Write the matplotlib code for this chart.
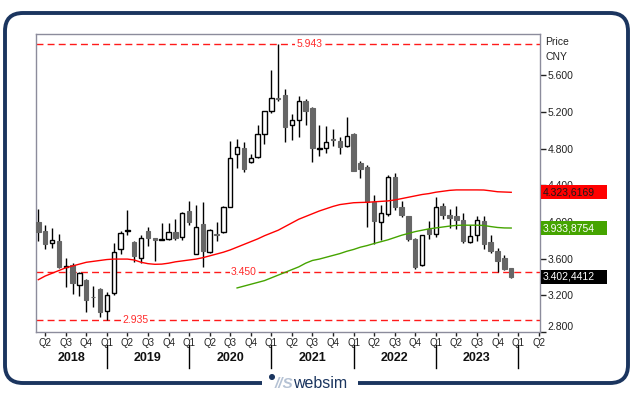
import matplotlib
matplotlib.use("Agg")
import matplotlib.pyplot as plt
from matplotlib.patches import Rectangle, FancyBboxPatch, Circle
from matplotlib.transforms import blended_transform_factory

plt.rcParams['font.family'] = ['Liberation Sans', 'DejaVu Sans']

# monthly candles, Mar 2018 .. Dec 2023
opens = [3.997, 3.902, 3.767, 3.792, 3.505, 3.527, 3.315, 3.367, 3.185, 3.268,
         3.028, 3.221, 3.702, 3.900, 3.781, 3.607, 3.905, 3.825, 3.802, 3.817,
         3.887, 3.833, 4.120, 3.650, 3.978, 3.676, 3.870, 3.894, 4.167, 4.739,
         4.804, 4.658, 4.706, 4.957, 5.208, 5.355, 5.383, 5.059, 5.110, 5.321,
         5.244, 4.800, 4.804, 4.910, 4.884, 4.826, 4.964, 4.644, 4.603, 4.215,
         4.000, 4.084, 4.491, 4.160, 4.065, 3.814, 3.527, 3.920, 3.866, 4.174,
         4.080, 4.065, 4.022, 3.781, 3.855, 4.011, 3.781, 3.683, 3.607, 3.498]
highs = [4.142, 3.970, 3.938, 3.869, 3.607, 3.552, 3.454, 3.374, 3.298, 3.283,
         3.239, 3.767, 3.905, 4.131, 3.792, 3.858, 3.942, 3.828, 3.986, 3.992,
         4.029, 4.105, 4.229, 4.185, 4.215, 3.927, 3.996, 4.170, 4.887, 4.906,
         4.876, 4.739, 5.059, 5.210, 5.659, 5.943, 5.452, 5.176, 5.375, 5.339,
         5.259, 5.059, 5.048, 5.012, 4.931, 5.149, 4.966, 4.669, 4.622, 4.295,
         4.185, 4.513, 4.531, 4.232, 4.070, 3.820, 3.858, 4.011, 4.276, 4.210,
         4.142, 4.174, 4.098, 3.964, 4.065, 4.065, 3.858, 3.716, 3.636, 3.500]
lows = [3.796, 3.708, 3.719, 3.500, 3.293, 3.211, 3.192, 3.014, 3.075, 2.966,
        2.935, 3.203, 3.654, 3.858, 3.560, 3.556, 3.741, 3.577, 3.798, 3.800,
        3.800, 3.800, 3.967, 3.650, 3.505, 3.665, 3.792, 3.883, 4.160, 4.586,
        4.549, 4.641, 4.695, 4.848, 5.186, 5.321, 4.876, 4.895, 4.931, 5.055,
        4.658, 4.720, 4.756, 4.829, 4.742, 4.822, 4.560, 4.483, 3.945, 3.756,
        3.803, 4.069, 4.131, 4.051, 3.792, 3.490, 3.520, 3.818, 3.833, 4.029,
        3.931, 3.920, 3.774, 3.771, 3.796, 3.702, 3.665, 3.457, 3.480, 3.392]
closes = [3.894, 3.756, 3.800, 3.512, 3.515, 3.337, 3.440, 3.152, 3.178, 3.020,
          3.203, 3.669, 3.876, 3.910, 3.629, 3.822, 3.828, 3.800, 3.810, 3.887,
          3.828, 4.095, 4.003, 3.945, 3.686, 3.909, 3.862, 4.164, 4.695, 4.815,
          4.575, 4.695, 4.957, 5.208, 5.350, 5.345, 5.040, 5.117, 5.324, 5.215,
          4.811, 4.805, 4.873, 4.900, 4.822, 4.939, 4.560, 4.578, 4.221, 4.014,
          4.098, 4.491, 4.164, 4.080, 3.811, 3.505, 3.855, 3.869, 4.160, 4.073,
          4.047, 4.022, 3.792, 3.847, 4.022, 3.763, 3.686, 3.571, 3.487, 3.402]

red_ma = [3.37, 3.41, 3.44, 3.47, 3.50, 3.52, 3.54, 3.56, 3.57, 3.58,
          3.59, 3.595, 3.595, 3.595, 3.585, 3.56, 3.545, 3.538, 3.54, 3.55,
          3.565, 3.575, 3.585, 3.595, 3.61, 3.63, 3.65, 3.67, 3.695, 3.725,
          3.755, 3.785, 3.815, 3.85, 3.88, 3.91, 3.95, 3.99, 4.03, 4.06,
          4.09, 4.12, 4.145, 4.17, 4.19, 4.20, 4.21, 4.213, 4.215, 4.22,
          4.225, 4.23, 4.24, 4.255, 4.27, 4.285, 4.30, 4.31, 4.325, 4.335,
          4.345, 4.35, 4.35, 4.35, 4.35, 4.349, 4.34, 4.33, 4.327, 4.324]
green_start = 29
green_ma = [3.28, 3.30, 3.32, 3.34, 3.36, 3.39, 3.42, 3.45, 3.48, 3.51,
            3.55, 3.58, 3.595, 3.615, 3.635, 3.655, 3.68, 3.70, 3.725, 3.743,
            3.765, 3.785, 3.805, 3.83, 3.855, 3.875, 3.895, 3.91, 3.925, 3.935,
            3.945, 3.955, 3.963, 3.965, 3.965, 3.965, 3.962, 3.95, 3.94, 3.935,
            3.934]

ref_levels = [5.943, 3.450, 2.935]
ref_label_x = [39.6, 30.0, 14.2]

quarter_labels = ['Q2', 'Q3', 'Q4'] + ['Q1', 'Q2', 'Q3', 'Q4'] * 5 + ['Q1', 'Q2']
years = ['2018', '2019', '2020', '2021', '2022', '2023']
price_ticks = [5.6, 5.2, 4.8, 4.4, 4.0, 3.6, 3.2, 2.8]

fig = plt.figure(figsize=(6.35, 3.98), dpi=100)

# outer rounded frame with logo
bg = fig.add_axes([0, 0, 1, 1], zorder=-1)
bg.set_xlim(0, 635)
bg.set_ylim(398, 0)
bg.axis('off')
navy = '#1b355f'
bg.add_patch(FancyBboxPatch((5, 13), 623, 370, boxstyle='round,pad=0,rounding_size=18',
                            fill=False, edgecolor=navy, lw=2.8))
bg.add_patch(Rectangle((262, 376), 96, 14, facecolor='white', edgecolor='none'))
bg.add_patch(Circle((272, 377), 2.3, color=navy))
bg.text(275, 384, '//S', fontsize=11, color='#b5c2d4', fontweight='bold',
        fontstyle='italic', va='center', ha='left')
bg.text(293, 383, 'websim', fontsize=11.5, color=navy, va='center', ha='left')

ax = fig.add_axes([36 / 635, 1 - 332 / 398, 504 / 635, 298 / 398])
n = len(opens)
xs = list(range(n))

ax.vlines(xs, lows, highs, color='black', lw=1, zorder=2)
for i in xs:
    o, c = opens[i], closes[i]
    if c >= o:
        ax.bar(i, c - o, bottom=o, width=0.64, facecolor='white', edgecolor='black',
               lw=1, zorder=3)
    else:
        ax.bar(i, o - c, bottom=c, width=0.64, facecolor='#666666', edgecolor='#666666',
               lw=0.8, zorder=3)

ax.plot(xs, red_ma, color='#ff0000', lw=1, zorder=4)
ax.plot(range(green_start, green_start + len(green_ma)), green_ma, color='#45a400',
        lw=1, zorder=4)

for lvl, lx in zip(ref_levels, ref_label_x):
    ax.axhline(lvl, color='#ff1a1a', lw=1, ls=(0, (5, 3)), zorder=1)
    ax.text(lx, lvl, f'{lvl:.3f}', color='#ff2b2b', fontsize=7.5, ha='center', va='center',
            bbox=dict(facecolor='white', edgecolor='none', pad=1), zorder=1.5)

ax.set_xlim(-0.34, 73.2)
ax.set_ylim(2.799, 6.052)

for s in ax.spines.values():
    s.set_color('#8c8c9c')
    s.set_linewidth(1)

ax.yaxis.tick_right()
ax.set_yticks(price_ticks)
ax.set_yticklabels([f'{t:.3f}' for t in price_ticks])
ax.tick_params(axis='y', length=4, width=1, color='#222222', labelsize=7.5, pad=1.5,
               labelcolor='#222222')
for lab in ax.get_yticklabels():
    if lab.get_text() == '2.800':
        lab.set_verticalalignment('bottom')

qpos = list(range(1, 74, 3))
ax.set_xticks(qpos)
ax.set_xticklabels(quarter_labels)
ax.tick_params(axis='x', length=3, width=1, color='#222222', labelsize=7, pad=1.5,
               labelcolor='#222222')

trans = blended_transform_factory(ax.transData, ax.transAxes)
seps = [10, 22, 34, 46, 58, 70]
bounds = [-0.34] + seps
for k, yr in enumerate(years):
    ax.text((bounds[k] + bounds[k + 1]) / 2, -26 / 298, yr, transform=trans,
            ha='center', va='center', fontsize=9, fontweight='bold', color='#111111')
for sx in seps:
    ax.plot([sx, sx], [-13 / 298, -36 / 298], transform=trans, color='black', lw=1,
            clip_on=False)

ax.text(1.01, 1 - 8 / 298, 'Price', transform=ax.transAxes, fontsize=7.5, ha='left',
        va='center', color='#222222')
ax.text(1.01, 1 - 23 / 298, 'CNY', transform=ax.transAxes, fontsize=7.5, ha='left',
        va='center', color='#222222')

btrans = blended_transform_factory(ax.transAxes, ax.transData)
boxes = [(4.3236, '4.323,6169', '#ff0000', '#1a1a1a'),
         (3.9339, '3.933,8754', '#45a400', 'white'),
         (3.4024, '3.402,4412', '#000000', 'white')]
for val, txt, fc, tc in boxes:
    h = 14 / 91.6
    ax.add_patch(Rectangle((1.002, val - h / 2), 66 / 504, h, transform=btrans,
                           facecolor=fc, edgecolor='none', clip_on=False, zorder=5))
    ax.text(1.006, val, txt, transform=btrans, color=tc, fontsize=7.5, ha='left',
            va='center', zorder=6)

fig.savefig('out.png', dpi=100)
